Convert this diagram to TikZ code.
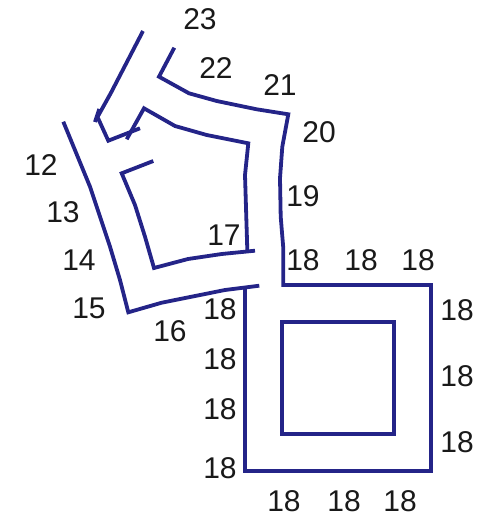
\documentclass[tikz,border=0pt]{standalone}
\usepackage{fontspec}
\setmainfont{Liberation Sans}
\definecolor{wallblue}{RGB}{36,36,136}

\begin{document}
\begin{tikzpicture}[
		x=1pt,
		y=-1pt,
		line join=miter,
		wall/.style={wallblue, line width=3.8pt},
		lab/.style={font=\fontsize{30}{30}\selectfont, inner sep=0pt, text=black!90}
	]
	
	\useasboundingbox (0,0) rectangle (483,516);
	
	% Upper stroke with its two ticks
	\draw[wall] (143,31) -- (110.7,93.3) -- (97.5,117) -- (108.3,140.7) -- (140,128.3);
	\draw[wall] (95,122) -- (99.3,109);
	
	% Inner wall
	\draw[wall] (126.7,139.3) -- (144,108.3) -- (175,126) -- (206.7,135) -- (248.3,143.3)
	-- (245,175) -- (247.3,250);
	\draw[wall] (255,250.7) -- (221.7,254) -- (188,259) -- (154,268) -- (145,236.7)
	-- (135,205) -- (121.7,173.3) -- (153.3,161);
	
	% Outer wall, right part
	\draw[wall] (174.3,47.7) -- (159,76.7) -- (189,93.3) -- (216.7,101) -- (256.7,109.3)
	-- (288.3,114.3) -- (282.3,146.7) -- (280,178.3) -- (280.7,216.7) -- (283.3,248.3)
	-- (283.3,285) -- (431,285) -- (431,471) -- (245,471) -- (245,288.3);
	
	% Outer wall, left part
	\draw[wall] (259.3,285.7) -- (225,290) -- (161.7,302.7) -- (128.3,312.3) -- (120,280)
	-- (110,246.7) -- (90,186.7) -- (63.3,121.7);
	
	% Inner square
	\draw[wall] (282.3,322.3) rectangle (394.3,433.7);
	
	% Labels along the path
	\node[lab] (l12) at (41,165) {12};
	\node[lab] (l13) at (63,212) {13};
	\node[lab] (l14) at (79,260) {14};
	\node[lab] (l15) at (89,308) {15};
	\node[lab] (l16) at (170,331) {16};
	\node[lab] (l17) at (224,235) {17};
	\node[lab] (l19) at (303,196) {19};
	\node[lab] (l20) at (319,132) {20};
	\node[lab] (l21) at (280,85) {21};
	\node[lab] (l22) at (216,68) {22};
	\node[lab] (l23) at (200,19) {23};
	
	% Labels round the square
	\foreach \x/\y/\n in {303/260/a,361/260/b,418/260/c,
		457/310/d,457/376/e,457/442/f,
		284/501/g,344/501/h,400/501/i,
		220/309/j,220/359/k,220/409/l,220/468/m} {
		\node[lab] (s\n) at (\x,\y) {18};
	}
	
\end{tikzpicture}
\end{document}
